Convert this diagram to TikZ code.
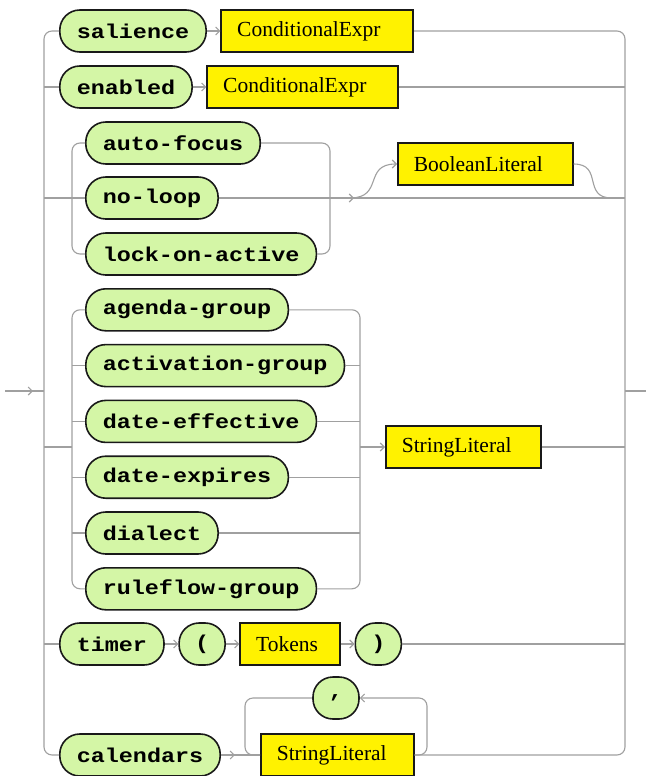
\documentclass[tikz,border=0pt]{standalone}
\usepackage{fontspec}
\usetikzlibrary{arrows.meta,positioning}
\newfontfamily\kwfont{Liberation Mono}[FakeStretch=1.17]
\newfontfamily\ntfont{Liberation Serif}
\definecolor{kwgreen}{RGB}{212,246,166}
\definecolor{railgray}{RGB}{160,160,160}

\begin{document}
\begin{tikzpicture}[x=1pt, y=-1pt, node distance=13.5pt,
  kw/.style={draw=black!90, line width=1.6pt, fill=kwgreen, rounded corners=20pt,
    minimum height=42pt, inner xsep=17pt, font=\kwfont\bfseries\fontsize{20}{24}\selectfont},
  punct/.style={kw, minimum width=46pt, inner xsep=0pt},
  nt/.style={draw=black!90, line width=1.6pt, fill=yellow, minimum height=42pt,
    inner xsep=16pt, text width=#1, align=left, font=\ntfont\fontsize{21.5}{24}\selectfont},
  rail/.style={draw=railgray, line width=1.1pt, rounded corners=8pt},
  arr/.style={rail, -{Straight Barb[length=4pt,width=8pt]}},
]
\useasboundingbox (0,0) rectangle (646,776);

% Rail points
\coordinate (start) at (5,391);
\coordinate (L) at (44,391);
\coordinate (R) at (625,391);
\coordinate (end) at (646,391);
\coordinate (aL) at (72,198);
\coordinate (aR) at (330,198);
\coordinate (bL) at (72,447);
\coordinate (bR) at (360,447);
\coordinate (cL) at (245,755);
\coordinate (cR) at (427,755);
\coordinate (skipin) at (350,198);
\coordinate (skipout) at (612,198);

% Single rows
\node[kw, anchor=west] (salience) at (59,31) {salience};
\node[nt=160pt, right=of salience] (salexpr) {ConditionalExpr};
\node[kw, anchor=west] (enabled) at (59,87) {enabled};
\node[nt=159pt, right=of enabled] (enexpr) {ConditionalExpr};

% Boolean flags
\node[kw, anchor=west] (autofocus) at (85,143) {auto-focus};
\node[kw, anchor=west] (noloop) at (85,198) {no-loop};
\node[kw, anchor=west] (lockon) at (85,254) {lock-on-active};
\node[nt=143pt, anchor=west] (boolean) at (397,164) {BooleanLiteral};

% String attributes
\foreach \k [count=\i] in {agenda-group, activation-group, date-effective, date-expires, dialect, ruleflow-group}
  \node[kw, anchor=west] (g\i) at (85, 254+55.8*\i) {\k};
\node[nt=123pt, anchor=west] (strlit) at (385,447) {StringLiteral};

% Timer
\node[kw, anchor=west] (timer) at (59,644) {timer};
\node[punct, right=of timer] (lpar) {(};
\node[nt=68pt, right=of lpar] (tokens) {Tokens};
\node[punct, right=of tokens] (rpar) {)};

% Calendars
\node[kw, anchor=west] (calendars) at (59,755) {calendars};
\node[nt=121pt, anchor=west] (calstr) at (260,755) {StringLiteral};
\node[punct] (comma) at (336,698) {,};

% Entry and exit
\draw[rail] (start) -- (L);
\draw[arr] (start) -- ++(28,0);
\draw[rail] (R) -- (end);

% Outer rails
\draw[rail] (salience.west) -| (L) |- (calendars.west);
\draw[rail] (salexpr.east) -| (R) |- (calstr.east);
\foreach \n in {enabled, noloop, timer}
  \draw[rail] (L |- \n.west) -- (\n.west);
\draw[rail] (L |- bL) -- (bL);
\draw[rail] (enexpr.east) -- (R |- enexpr.east);
\draw[rail] (aR) -- (R |- aR);
\draw[rail] (strlit.east) -- (R |- strlit.east);
\draw[rail] (rpar.east) -- (R |- rpar.east);

% Sequences
\draw[arr] (salience.east) -- (salexpr.west);
\draw[arr] (enabled.east) -- (enexpr.west);
\draw[arr] (timer.east) -- (lpar.west);
\draw[arr] (lpar.east) -- (tokens.west);
\draw[arr] (tokens.east) -- (rpar.west);

% Flag choice and optional value
\draw[rail] (autofocus.west) -| (aL) |- (lockon.west);
\draw[rail] (autofocus.east) -| (aR) |- (lockon.east);
\draw[rail] (noloop.east) -- (aR);
\draw[arr] (aR) -- ++(24,0);
\draw[arr] (skipin) to[out=0, in=180, looseness=1.5] (boolean.west);
\draw[rail] (boolean.east) to[out=0, in=180, looseness=1.5] (skipout);

% String choice
\draw[rail] (g1.west) -| (bL) |- (g6.west);
\draw[rail] (g1.east) -| (bR) |- (g6.east);
\foreach \i in {2,...,5} {
  \draw[rail] (bL |- g\i.west) -- (g\i.west);
  \draw[rail] (g\i.east) -- (bR |- g\i.east);
}
\draw[arr] (bR) -- (strlit.west);

% Calendar list loop
\draw[arr] (calendars.east) -- ++(14,0);
\draw[rail] (calendars.east) -- (calstr.west);
\draw[rail] (comma.west) -| (cL) -- (calstr.west);
\draw[arr] (calstr.east) -- (cR) |- (comma.east);

\end{tikzpicture}
\end{document}
